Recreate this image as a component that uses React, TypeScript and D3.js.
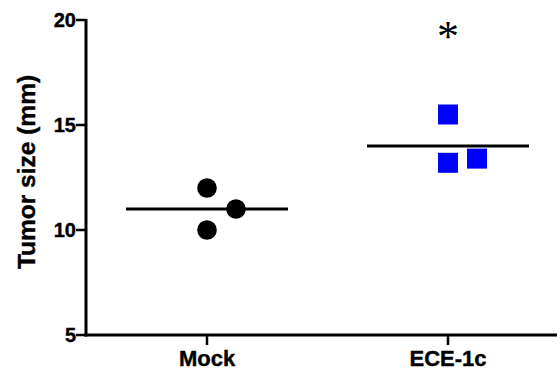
import React, { useRef, useEffect } from "react";
import * as d3 from "d3";

const categories = ["Mock", "ECE-1c"];
const mockValues = [12, 11, 10];
const eceValues = [15.5, 13.2, 13.4];
// column index used to spread overlapping points sideways
const mockCols = [0, 1, 0];
const eceCols = [0, 0, 1];
const means = [11, 14];
const yTicks = [5, 10, 15, 20];

const App = () => {
  const svgRef = useRef<SVGSVGElement>(null);

  useEffect(() => {
    const width = 560;
    const height = 373;
    const axisLeft = 86;
    const axisRight = 557;
    const axisBottom = 335;
    const axisTop = 20;

    const svg = d3.select(svgRef.current)
      .attr("width", width)
      .attr("height", height)
      .style("font-family", "'Liberation Sans', Arial, sans-serif");

    svg.selectAll("*").remove();

    const x = d3.scalePoint<string>().domain(categories).range([207, 448]);
    const y = d3.scaleLinear().domain([5, 20]).range([axisBottom, axisTop]);

    const g = svg.append("g");

    // y axis
    g.append("line")
      .attr("x1", axisLeft).attr("x2", axisLeft)
      .attr("y1", y(20) - 1).attr("y2", axisBottom + 1.5)
      .attr("stroke", "black").attr("stroke-width", 3);

    yTicks.forEach((t) => {
      g.append("line")
        .attr("x1", axisLeft - 10).attr("x2", axisLeft)
        .attr("y1", y(t)).attr("y2", y(t))
        .attr("stroke", "black").attr("stroke-width", 2.5);
      g.append("text")
        .attr("x", axisLeft - 10)
        .attr("y", y(t))
        .attr("dy", "0.36em")
        .attr("text-anchor", "end")
        .attr("font-size", 20)
        .attr("font-weight", "bold")
        .attr("stroke", "black")
        .attr("stroke-width", 0.4)
        .text(t);
    });

    // x axis
    g.append("line")
      .attr("x1", axisLeft - 1.5).attr("x2", axisRight)
      .attr("y1", axisBottom).attr("y2", axisBottom)
      .attr("stroke", "black").attr("stroke-width", 3);

    categories.forEach((c) => {
      g.append("line")
        .attr("x1", x(c)!).attr("x2", x(c)!)
        .attr("y1", axisBottom).attr("y2", axisBottom + 10)
        .attr("stroke", "black").attr("stroke-width", 2.5);
      g.append("text")
        .attr("x", x(c)!)
        .attr("y", 366)
        .attr("text-anchor", "middle")
        .attr("font-size", 22)
        .attr("font-weight", "bold")
        .attr("stroke", "black")
        .attr("stroke-width", 0.4)
        .text(c);
    });

    // y label
    g.append("text")
      .attr("transform", `translate(35,${172}) rotate(-90)`)
      .attr("text-anchor", "middle")
      .attr("font-size", 24.5)
      .attr("font-weight", "bold")
      .attr("stroke", "black")
      .attr("stroke-width", 0.4)
      .text("Tumor size (mm)");

    // mean lines
    means.forEach((m, i) => {
      const cx = x(categories[i])!;
      g.append("line")
        .attr("x1", cx - 81).attr("x2", cx + 81)
        .attr("y1", y(m)).attr("y2", y(m))
        .attr("stroke", "black").attr("stroke-width", 3);
    });

    const spread = 29;

    // Mock circles
    g.selectAll(".dot")
      .data(mockValues)
      .enter()
      .append("circle")
      .attr("class", "dot")
      .attr("cx", (d, i) => x("Mock")! + mockCols[i] * spread)
      .attr("cy", (d) => y(d))
      .attr("r", 9.8)
      .attr("fill", "black");

    // ECE-1c squares
    const s = 20;
    g.selectAll(".sq")
      .data(eceValues)
      .enter()
      .append("rect")
      .attr("class", "sq")
      .attr("x", (d, i) => x("ECE-1c")! + eceCols[i] * spread - s / 2)
      .attr("y", (d) => y(d) - s / 2)
      .attr("width", s)
      .attr("height", s)
      .attr("fill", "#0000ff");

    // significance marker
    g.append("text")
      .attr("x", x("ECE-1c")!)
      .attr("y", 51)
      .attr("text-anchor", "middle")
      .attr("font-size", 44)
      .attr("font-family", "'Liberation Serif', serif")
      .text("*");
  }, []);

  return <svg ref={svgRef} style={{ position: "absolute", left: 0, top: 0 }}></svg>;
};

export default App;
